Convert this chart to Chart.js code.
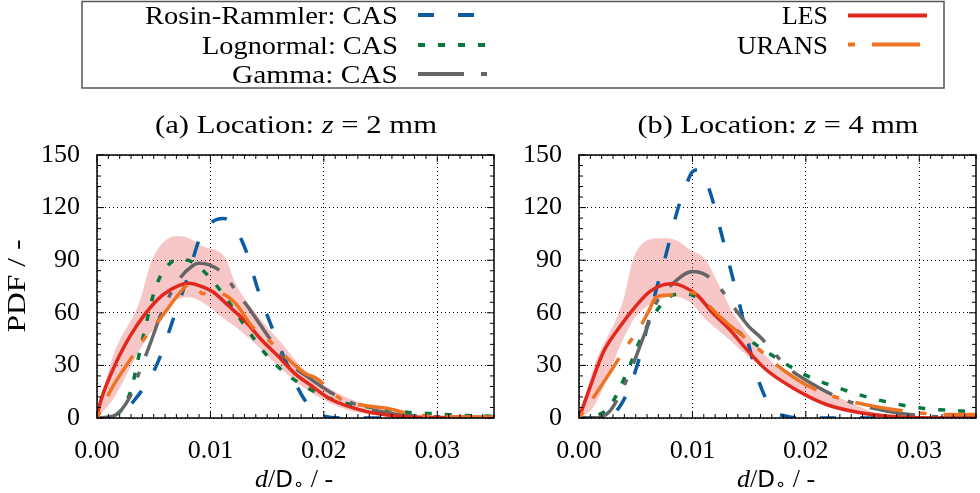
<!DOCTYPE html>
<html>
<head>
<meta charset="utf-8">
<script src="https://cdn.jsdelivr.net/npm/chart.js@4.4.1/dist/chart.umd.min.js"></script>
<style>
html, body { margin: 0; padding: 0; background: #fff; }
#wrap { position: relative; width: 980px; height: 493px; overflow: hidden; }
canvas { position: absolute; }
#cA { left: 0; top: 100px; width: 520px; height: 393px; }
#cB { left: 520px; top: 100px; width: 460px; height: 393px; }
svg { position: absolute; left: 0; top: 0; font-family: "Liberation Serif", serif; font-size: 26px; }
</style>
</head>
<body>
<div id="wrap">
<canvas id="cA" width="520" height="393"></canvas>
<canvas id="cB" width="460" height="393"></canvas>
<svg width="980" height="493" viewBox="0 0 980 493">
  <!-- legend -->
  <rect x="82" y="1.5" width="862" height="86.5" fill="none" stroke="#555" stroke-width="1.5"/>
  <text x="398" y="24" text-anchor="end" textLength="253" lengthAdjust="spacingAndGlyphs">Rosin-Rammler: CAS</text>
  <text x="398" y="54" text-anchor="end" textLength="196" lengthAdjust="spacingAndGlyphs">Lognormal: CAS</text>
  <text x="398" y="83" text-anchor="end" textLength="166" lengthAdjust="spacingAndGlyphs">Gamma: CAS</text>
  <text x="828" y="24" text-anchor="end" textLength="46" lengthAdjust="spacingAndGlyphs">LES</text>
  <text x="828" y="54" text-anchor="end" textLength="91" lengthAdjust="spacingAndGlyphs">URANS</text>
  <line x1="418" y1="15" x2="474" y2="15" stroke="#0a5ca3" stroke-width="4" stroke-dasharray="16 24"/>
  <line x1="418" y1="45" x2="486" y2="45" stroke="#037a3c" stroke-width="4" stroke-dasharray="7 13"/>
  <line x1="418" y1="74" x2="488" y2="74" stroke="#666666" stroke-width="4" stroke-dasharray="46 17 6 17"/>
  <line x1="848" y1="15.5" x2="927" y2="15.5" stroke="#e2271d" stroke-width="4"/>
  <line x1="848" y1="44.5" x2="920" y2="44.5" stroke="#ee7322" stroke-width="4" stroke-dasharray="7 17 48 17"/>
  <!-- panel titles -->
  <text x="296" y="133" text-anchor="middle" textLength="282" lengthAdjust="spacingAndGlyphs">(a) Location: <tspan font-style="italic">z</tspan> = 2 mm</text>
  <text x="778" y="133" text-anchor="middle" textLength="281" lengthAdjust="spacingAndGlyphs">(b) Location: <tspan font-style="italic">z</tspan> = 4 mm</text>
  <!-- axis titles -->
  <text transform="translate(25,286) rotate(-90)" text-anchor="middle" textLength="93" lengthAdjust="spacingAndGlyphs">PDF / -</text>
  <text x="294" y="487" text-anchor="middle"><tspan font-style="italic">d</tspan>/<tspan font-family="DejaVu Sans" font-size="23">D</tspan><tspan font-family="DejaVu Sans" font-size="18" dy="3">∘</tspan><tspan dy="-3"> / -</tspan></text>
  <text x="776" y="487" text-anchor="middle"><tspan font-style="italic">d</tspan>/<tspan font-family="DejaVu Sans" font-size="23">D</tspan><tspan font-family="DejaVu Sans" font-size="18" dy="3">∘</tspan><tspan dy="-3"> / -</tspan></text>
</svg>
</div>
<script>
// ---- (a) z = 2 mm ----
const xLesA = [0, 0.0002, 0.0014, 0.0029, 0.0043, 0.0058, 0.0072, 0.0081, 0.009, 0.0102, 0.0116, 0.0131, 0.0145, 0.016, 0.0174, 0.0189, 0.0207, 0.0237, 0.0266, 0.03, 0.035];
const yLesA = [0, 6.6, 27.5, 46.5, 59.8, 70.2, 75.5, 76.8, 75.5, 72, 64, 55, 44.6, 35, 25.6, 18.4, 10.4, 3.8, 1, 0.3, 0];
const xBandA = [0, 0.0014, 0.0037, 0.0049, 0.0071, 0.0081, 0.0093, 0.0113, 0.0122, 0.014, 0.016, 0.0183, 0.0212, 0.024, 0.027, 0.03, 0.035];
const yBandHiA = [0, 35, 65.5, 91, 103.8, 102.5, 98, 91.6, 76.8, 59.8, 44.6, 27.5, 14.2, 7, 2.5, 0.8, 0.3];
const yBandLoA = [0, 10.4, 38, 50, 67.7, 68.9, 66, 56, 52, 42, 29.4, 17, 6.6, 2, 0.5, 0, 0];
const xRrA = [0, 0.0015, 0.0022, 0.0031, 0.0052, 0.007, 0.0081, 0.009, 0.0102, 0.0111, 0.0116, 0.0131, 0.0142, 0.0154, 0.0166, 0.0183, 0.02, 0.022, 0.035];
const yRrA = [0, 0.5, 2.5, 8.5, 29.4, 61.7, 82.5, 101.5, 112, 113.8, 113, 96, 73, 52, 33, 10.4, 1, 0, 0];
const xLogA = [0, 0.0014, 0.0029, 0.004, 0.0052, 0.0064, 0.0075, 0.0084, 0.0099, 0.0113, 0.0131, 0.0148, 0.0166, 0.0189, 0.0213, 0.0237, 0.0258, 0.0275, 0.0296, 0.031, 0.033, 0.035];
const yLogA = [0, 1, 14, 44.6, 75, 88, 90.5, 89, 80.5, 69, 52, 37, 25.6, 16, 9.5, 6.6, 4.7, 3.2, 2.5, 1.9, 1.3, 1];
const xGamA = [0, 0.0014, 0.0029, 0.0037, 0.0046, 0.0058, 0.0072, 0.0084, 0.009, 0.0099, 0.0111, 0.0122, 0.0137, 0.0151, 0.0166, 0.0189, 0.0207, 0.0237, 0.0266, 0.03, 0.035];
const yGamA = [0, 1, 12, 25.6, 40.8, 61.7, 78.7, 86.7, 88.2, 87.3, 82.5, 73, 59.8, 46.5, 33.2, 22, 14.2, 5.7, 1.9, 0.7, 0.3];
const xUrA = [0, 0.0014, 0.0029, 0.0043, 0.0055, 0.007, 0.0078, 0.0084, 0.0093, 0.0108, 0.0122, 0.0137, 0.0148, 0.0163, 0.0183, 0.0193, 0.0216, 0.0237, 0.0254, 0.028, 0.03, 0.035];
const yUrA = [0, 18, 33, 46.5, 56, 69, 75, 77, 71, 71, 65.5, 52, 46.5, 37, 25.6, 22.8, 10.4, 7, 5.7, 1.9, 1, 0.5];

// ---- (b) z = 4 mm ----
const xLesB = [0, 0.001, 0.0021, 0.0036, 0.0051, 0.0062, 0.0074, 0.0083, 0.0092, 0.0104, 0.0118, 0.0133, 0.0148, 0.0165, 0.0189, 0.0218, 0.0248, 0.0277, 0.03, 0.035];
const yLesB = [0, 18, 37, 52, 64.5, 72, 75.9, 76.5, 75, 70.2, 59.8, 50.3, 39, 27.5, 17, 7.7, 3, 0.8, 0.2, 0];
const xBandB = [0, 0.0013, 0.0039, 0.0049, 0.0071, 0.0083, 0.0098, 0.0112, 0.0121, 0.0136, 0.0153, 0.0174, 0.0197, 0.0212, 0.0233, 0.0262, 0.03, 0.035];
const yBandHiB = [0, 29, 67, 93, 102.5, 102, 96, 90, 79, 59.8, 44.6, 29.4, 21, 16, 10.6, 3, 0.5, 0];
const yBandLoB = [0, 6.6, 45, 57, 67.4, 69.3, 66, 56, 51, 42.7, 33, 23.7, 14, 8.5, 4, 1, 0, 0];
const xRrB = [0, 0.002, 0.0036, 0.0051, 0.0068, 0.0077, 0.0086, 0.0095, 0.01, 0.0106, 0.0115, 0.0124, 0.0133, 0.0142, 0.015, 0.0159, 0.0171, 0.0183, 0.02, 0.035];
const yRrB = [0, 0.5, 6.6, 29.4, 73, 94, 116.7, 133.8, 140.4, 141.7, 130, 109, 86.3, 63.6, 40.8, 20, 4.7, 1, 0, 0];
const xLogB = [0, 0.0013, 0.0027, 0.0042, 0.0054, 0.0065, 0.008, 0.0092, 0.01, 0.0112, 0.0127, 0.0142, 0.0159, 0.0177, 0.0198, 0.0233, 0.0262, 0.03, 0.0336, 0.035];
const yLogB = [0, 1, 6.6, 25.6, 44.6, 57.9, 69.3, 70.8, 70, 64.5, 56, 48.4, 40.5, 33, 25, 16.2, 10.6, 5.8, 4, 3.5];
const xGamB = [0, 0.0013, 0.0027, 0.0042, 0.0057, 0.0068, 0.0083, 0.01, 0.0109, 0.0121, 0.0136, 0.015, 0.016, 0.0183, 0.0197, 0.0233, 0.0271, 0.0306, 0.035];
const yGamB = [0, 0, 3.8, 21.8, 46.5, 65.5, 76.8, 83.5, 82.5, 76.8, 63.6, 52, 46, 29.4, 22.8, 10.6, 4, 1.1, 0.3];
const xUrB = [0, 0.0013, 0.0027, 0.0042, 0.0054, 0.0062, 0.0068, 0.008, 0.0092, 0.01, 0.0112, 0.0127, 0.0145, 0.0159, 0.0171, 0.0188, 0.0206, 0.0233, 0.0256, 0.0277, 0.0306, 0.0336, 0.035];
const yUrB = [0, 12, 25.6, 40.8, 52, 61.7, 69, 70.2, 70.2, 71.5, 65.5, 56, 46.5, 39, 32, 23.8, 17, 10.6, 7.2, 4.9, 2.5, 2, 2];

// axis ticks
const xMin = 0, xMax = 0.035, xStep = 0.01, xMinor = 0.001;
const yMin = 0, yMax = 150, yStep = 30, yMinor = 6;

const FONT = { family: 'Liberation Serif', size: 26 };
const pts = (xs, ys) => xs.map((x, i) => ({ x, y: ys[i] }));

// frame + inward ticks on all four sides, drawn over the curves
const frameTicks = {
    id: 'frameTicks',
    afterDatasetsDraw(chart) {
        const { ctx, chartArea: a, scales: { x, y } } = chart;
        const seg = (x1, y1, x2, y2) => { ctx.beginPath(); ctx.moveTo(x1, y1); ctx.lineTo(x2, y2); ctx.stroke(); };
        ctx.save();
        ctx.strokeStyle = '#000';
        ctx.lineWidth = 1;
        const nx = Math.round((xMax - xMin) / xMinor);
        for (let i = 0; i <= nx; i++) {
            const px = x.getPixelForValue(xMin + i * xMinor);
            const len = i % 10 === 0 ? 7 : 4;
            seg(px, a.bottom, px, a.bottom - len);
            seg(px, a.top, px, a.top + len);
        }
        for (let v = yMin; v <= yMax; v += yMinor) {
            const py = y.getPixelForValue(v);
            const len = v % yStep === 0 ? 7 : 4;
            seg(a.left, py, a.left + len, py);
            seg(a.right, py, a.right - len, py);
        }
        ctx.lineWidth = 1.5;
        ctx.strokeRect(a.left, a.top, a.right - a.left, a.bottom - a.top);
        ctx.restore();
    }
};

function curve(label, data, color, dash, order) {
    return {
        label, data, borderColor: color, borderWidth: 3.5, borderDash: dash,
        pointRadius: 0, fill: false, cubicInterpolationMode: 'monotone', order
    };
}

function renderPanel(canvasId, p, yWidth, padRight) {
    return new Chart(document.getElementById(canvasId), {
        type: 'line',
        data: {
            datasets: [
                { // LES spread band
                    label: 'band-hi', data: pts(p.xBand, p.hi), borderWidth: 0, pointRadius: 0,
                    fill: '+1', backgroundColor: 'rgba(228, 50, 50, 0.28)', cubicInterpolationMode: 'monotone', order: 10
                },
                { label: 'band-lo', data: pts(p.xBand, p.lo), borderWidth: 0, pointRadius: 0, fill: false, cubicInterpolationMode: 'monotone', order: 11 },
                curve('Rosin-Rammler: CAS', pts(p.xRr, p.rr), '#0a5ca3', [16, 24], 6),
                curve('Lognormal: CAS', pts(p.xLog, p.log), '#037a3c', [7, 13], 5),
                curve('Gamma: CAS', pts(p.xGam, p.gam), '#666666', [46, 17, 6, 17], 4),
                curve('LES', pts(p.xLes, p.les), '#e2271d', [], 3),
                curve('URANS', pts(p.xUr, p.ur), '#ee7322', [7, 17, 48, 17], 2)
            ]
        },
        options: {
            responsive: false,
            maintainAspectRatio: false,
            animation: false,
            events: [],
            layout: { padding: { top: 55, left: 0, right: padRight, bottom: 0 } },
            plugins: { legend: { display: false }, tooltip: { enabled: false } },
            scales: {
                x: {
                    type: 'linear', min: xMin, max: xMax,
                    ticks: { stepSize: xStep, includeBounds: false, padding: 18, color: '#000', font: FONT, maxRotation: 0,
                        callback: (v) => v.toFixed(2) },
                    grid: { color: '#000', lineWidth: 1, drawTicks: false },
                    border: { display: false, dash: [1, 3] },
                    afterFit: (s) => { s.height = 75; }
                },
                y: {
                    type: 'linear', min: yMin, max: yMax,
                    ticks: { stepSize: yStep, padding: 17, color: '#000', font: FONT },
                    grid: { color: '#000', lineWidth: 1, drawTicks: false },
                    border: { display: false, dash: [1, 3] },
                    afterFit: (s) => { s.width = yWidth; }
                }
            }
        },
        plugins: [frameTicks]
    });
}

renderPanel('cA', {
    xBand: xBandA, hi: yBandHiA, lo: yBandLoA, xRr: xRrA, rr: yRrA, xLog: xLogA, log: yLogA,
    xGam: xGamA, gam: yGamA, xLes: xLesA, les: yLesA, xUr: xUrA, ur: yUrA
}, 97, 26);
renderPanel('cB', {
    xBand: xBandB, hi: yBandHiB, lo: yBandLoB, xRr: xRrB, rr: yRrB, xLog: xLogB, log: yLogB,
    xGam: xGamB, gam: yGamB, xLes: xLesB, les: yLesB, xUr: xUrB, ur: yUrB
}, 59, 4);
</script>
</body>
</html>
